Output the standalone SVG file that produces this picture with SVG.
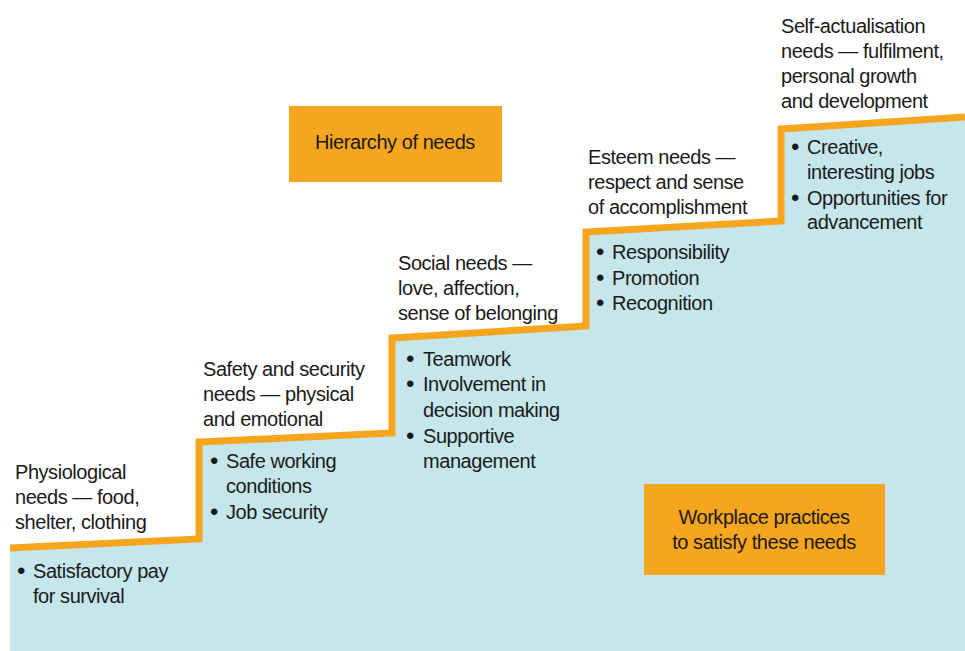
<svg xmlns="http://www.w3.org/2000/svg" width="965" height="651" viewBox="0 0 965 651">
<style>
text{font-family:"Liberation Sans",Arial,sans-serif;font-size:20px;fill:#1a1a1a;letter-spacing:-0.45px}
.b{font-size:24px}
.box{fill:#F6A51E}
.c{text-anchor:middle}
</style>
<rect x="0" y="0" width="965" height="651" fill="#ffffff"/>
<g id="stairs">
<polygon points="10,548 199,539 199,442 392,433 392,338 586,326 586,232 781,221 781,129 965,117 965,651 10,651" fill="#C5E6EB"/>
<polyline points="10,548 199,539 199,442 392,433 392,338 586,326 586,232 781,221 781,129 965,117" fill="none" stroke="#F6A51E" stroke-width="7"/>
</g>
<g id="title">
<rect class="box" x="289" y="106" width="213" height="76"/>
<text class="c" x="395" y="149">Hierarchy of needs</text>
</g>
<g id="legend">
<rect class="box" x="644" y="484" width="241" height="91"/>
<text class="c" x="764" y="524">Workplace practices</text>
<text class="c" x="764" y="549">to satisfy these needs</text>
</g>
<g id="step1">
<text x="15" y="479">Physiological</text>
<text x="15" y="504">needs — food,</text>
<text x="15" y="529">shelter, clothing</text>
<text class="b" x="17" y="579">•</text><text x="33" y="578">Satisfactory pay</text>
<text x="33" y="603">for survival</text>
</g>
<g id="step2">
<text x="203" y="376">Safety and security</text>
<text x="203" y="401">needs — physical</text>
<text x="203" y="426">and emotional</text>
<text class="b" x="210" y="469">•</text><text x="226" y="468">Safe working</text>
<text x="226" y="493">conditions</text>
<text class="b" x="210" y="520">•</text><text x="226" y="519">Job security</text>
</g>
<g id="step3">
<text x="398" y="270">Social needs —</text>
<text x="398" y="295">love, affection,</text>
<text x="398" y="320">sense of belonging</text>
<text class="b" x="406" y="367">•</text><text x="423" y="366">Teamwork</text>
<text class="b" x="406" y="392">•</text><text x="423" y="391">Involvement in</text>
<text x="423" y="417">decision making</text>
<text class="b" x="406" y="444">•</text><text x="423" y="443">Supportive</text>
<text x="423" y="468">management</text>
</g>
<g id="step4">
<text x="588" y="164">Esteem needs —</text>
<text x="588" y="189">respect and sense</text>
<text x="588" y="214">of accomplishment</text>
<text class="b" x="596" y="260">•</text><text x="612" y="259">Responsibility</text>
<text class="b" x="596" y="286">•</text><text x="612" y="285">Promotion</text>
<text class="b" x="596" y="311">•</text><text x="612" y="310">Recognition</text>
</g>
<g id="step5">
<text x="781" y="33">Self-actualisation</text>
<text x="781" y="58">needs — fulfilment,</text>
<text x="781" y="83">personal growth</text>
<text x="781" y="108">and development</text>
<text class="b" x="791" y="155">•</text><text x="807" y="154">Creative,</text>
<text x="807" y="179">interesting jobs</text>
<text class="b" x="791" y="206">•</text><text x="807" y="205">Opportunities for</text>
<text x="807" y="229">advancement</text>
</g>
</svg>
